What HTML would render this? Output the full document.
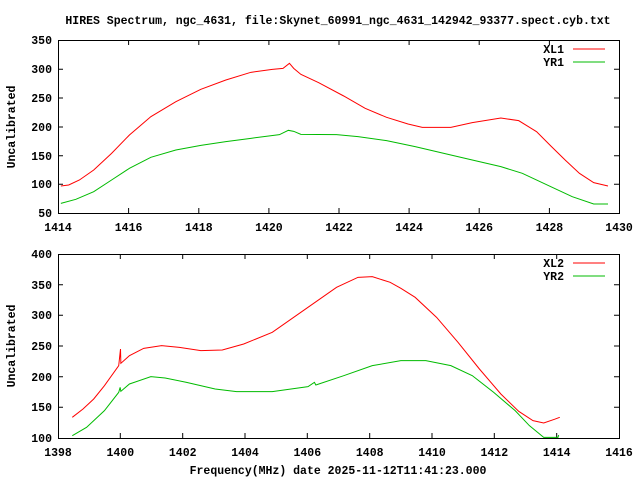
<!DOCTYPE html>
<html><head><style>body{margin:0;background:#fff}svg{display:block}text{font-family:"Liberation Mono",monospace;font-weight:bold;font-size:11.5px;fill:#000}</style></head><body>
<svg width="640" height="480" xmlns="http://www.w3.org/2000/svg">
<defs><clipPath id="c2"><rect x="58" y="254" width="561" height="184"/></clipPath></defs>
<text x="338" y="24" text-anchor="middle">HIRES Spectrum, ngc_4631, file:Skynet_60991_ngc_4631_142942_93377.spect.cyb.txt</text>
<g stroke="#000" fill="none" stroke-width="1">
<rect x="58.5" y="40.5" width="561" height="173"/>
<rect x="58.5" y="254.5" width="561" height="184"/>
<path d="M58 69.3h5M58 98h5M58 127h5M58 155.7h5M58 184.3h5M619 69.3h-5M619 98h-5M619 127h-5M619 155.7h-5M619 184.3h-5
M128.6 213v-5M198.8 213v-5M268.9 213v-5M339 213v-5M409.1 213v-5M479.2 213v-5M549.4 213v-5M128.6 40v5M198.8 40v5M268.9 40v5M339 40v5M409.1 40v5M479.2 40v5M549.4 40v5"/>
<path d="M58 284.7h5M58 315.3h5M58 346h5M58 376.7h5M58 407.3h5M619 284.7h-5M619 315.3h-5M619 346h-5M619 376.7h-5M619 407.3h-5
M120.3 438v-5M182.7 438v-5M245 438v-5M307.3 438v-5M369.7 438v-5M432 438v-5M494.3 438v-5M556.7 438v-5M120.3 254v5M182.7 254v5M245 254v5M307.3 254v5M369.7 254v5M432 254v5M494.3 254v5M556.7 254v5"/>
</g>
<g text-anchor="end">
<text x="52" y="44">350</text><text x="52" y="73">300</text><text x="52" y="102">250</text><text x="52" y="131">200</text><text x="52" y="160">150</text><text x="52" y="188">100</text><text x="52" y="217">50</text>
<text x="52" y="258">400</text><text x="52" y="289">350</text><text x="52" y="319">300</text><text x="52" y="350">250</text><text x="52" y="381">200</text><text x="52" y="411">150</text><text x="52" y="442">100</text>
</g>
<g text-anchor="middle">
<text x="58" y="231">1414</text><text x="128.6" y="231">1416</text><text x="198.8" y="231">1418</text><text x="268.9" y="231">1420</text><text x="339" y="231">1422</text><text x="409.1" y="231">1424</text><text x="479.2" y="231">1426</text><text x="549.4" y="231">1428</text><text x="619" y="231">1430</text>
<text x="58" y="456">1398</text><text x="120.3" y="456">1400</text><text x="182.7" y="456">1402</text><text x="245" y="456">1404</text><text x="307.3" y="456">1406</text><text x="369.7" y="456">1408</text><text x="432" y="456">1410</text><text x="494.3" y="456">1412</text><text x="556.7" y="456">1414</text><text x="619" y="456">1416</text>
<text x="338" y="474">Frequency(MHz) date 2025-11-12T11:41:23.000</text>
</g>
<text transform="translate(15,127) rotate(-90)" text-anchor="middle">Uncalibrated</text>
<text transform="translate(15,346) rotate(-90)" text-anchor="middle">Uncalibrated</text>
<g text-anchor="end"><text x="564" y="53">XL1</text><text x="564" y="66">YR1</text><text x="564" y="267">XL2</text><text x="564" y="280">YR2</text></g>
<g fill="none" stroke-width="1">
<path stroke="#f00" d="M573 49h32M573 263h32"/>
<path stroke="#0b0" d="M573 62h32M573 276h32"/>
</g>
<g fill="none" stroke-width="1" transform="translate(58,40) scale(0.35714,0.33333)">
<polyline vector-effect="non-scaling-stroke" stroke="#f00" points="8,438 30,435 60,420 100,390 150,340 200,285 260,230 330,185 400,148 470,120 540,97 600,88 630,85 648,70 660,85 680,103 730,128 800,168 860,205 920,232 980,252 1020,262 1100,262 1160,248 1240,234 1290,242 1340,275 1380,318 1420,360 1460,400 1500,428 1540,438"/>
<polyline vector-effect="non-scaling-stroke" stroke="#0b0" points="8,490 50,478 100,455 150,420 200,385 260,352 330,330 400,316 470,305 540,295 620,284 645,271 660,274 680,283 780,284 840,290 920,302 1000,320 1100,345 1160,360 1240,380 1300,400 1380,440 1440,470 1500,492 1540,492"/>
</g>
<g clip-path="url(#c2)"><g fill="none" stroke-width="1" transform="translate(58,254) scale(0.35714,0.33333)">
<polyline vector-effect="non-scaling-stroke" stroke="#f00" points="40,490 70,465 100,435 130,395 170,335 175,285 176,328 200,305 240,283 290,275 340,280 400,290 460,288 520,270 600,235 700,160 780,100 840,70 880,68 930,85 960,103 1000,130 1060,190 1120,265 1180,345 1240,420 1290,472 1330,500 1360,507 1390,496 1405,490"/>
<polyline vector-effect="non-scaling-stroke" stroke="#0b0" points="40,545 80,520 130,470 170,415 174,400 176,412 200,390 260,368 300,372 360,385 440,405 500,413 600,413 700,398 718,385 722,393 800,365 880,335 960,320 1030,320 1100,335 1160,365 1220,415 1280,470 1320,515 1360,550 1400,550 1402,543"/>
</g></g>
</svg>
</body></html>
